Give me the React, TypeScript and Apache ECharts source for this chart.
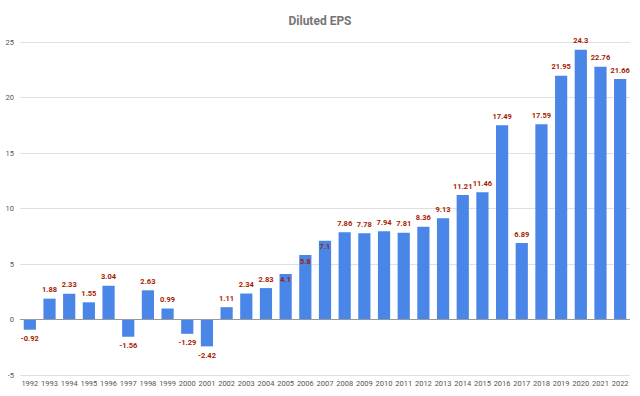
import React, { useEffect, useRef } from "react";
import * as echarts from "echarts";

const years = ["1992","1993","1994","1995","1996","1997","1998","1999","2000","2001","2002","2003","2004","2005","2006","2007","2008","2009","2010","2011","2012","2013","2014","2015","2016","2017","2018","2019","2020","2021","2022"];
const eps = [-0.92,1.88,2.33,1.55,3.04,-1.56,2.63,0.99,-1.29,-2.42,1.11,2.34,2.83,4.1,5.8,7.1,7.86,7.78,7.94,7.81,8.36,9.13,11.21,11.46,17.49,6.89,17.59,21.95,24.3,22.76,21.66];
const insideLabelYears = ["2005","2006","2007"];

export default function App() {
  const ref = useRef<HTMLDivElement>(null);
  useEffect(() => {
    if (!ref.current) return;
    const chart = echarts.init(ref.current, null, { renderer: "svg" });
    const font = "Roboto, Arial, sans-serif";
    chart.setOption({
      animation: false,
      backgroundColor: "#ffffff",
      title: {
        text: "Diluted EPS",
        left: "center",
        top: 10,
        textStyle: { fontSize: 12, fontWeight: "bold", color: "#757575", fontFamily: font },
      },
      grid: { left: 20, right: 10, top: 42, bottom: 21, containLabel: false },
      xAxis: {
        type: "category",
        data: years,
        axisLine: { show: false, onZero: false },
        axisTick: { show: false },
        axisLabel: { fontSize: 7.5, color: "#555", fontFamily: font, margin: 4, interval: 0 },
      },
      yAxis: {
        type: "value",
        min: -5,
        max: 25,
        interval: 5,
        axisLine: { show: false },
        axisTick: { show: false },
        axisLabel: { fontSize: 7.5, color: "#555", fontFamily: font, margin: 6 },
        splitLine: { lineStyle: { color: "#e0e0e0", width: 1 } },
      },
      series: [
        {
          type: "bar",
          barWidth: "62%",
          itemStyle: { color: "#4a86e8" },
          data: eps.map((v, i) => ({
            value: v,
            label: {
              show: true,
              position: insideLabelYears.includes(years[i]) ? "insideTop" : v < 0 ? "bottom" : "top",
              distance: insideLabelYears.includes(years[i]) ? 2 : 5,
              formatter: String(v),
              fontSize: 7.5,
              fontWeight: "bold",
              color: "#a61c00",
              fontFamily: font,
            },
          })),
          markLine: {
            silent: true,
            symbol: "none",
            label: { show: false },
            lineStyle: { color: "#999999", width: 1, type: "solid" },
            data: [{ yAxis: 0 }],
          },
        },
      ],
    });
    return () => chart.dispose();
  }, []);
  return <div ref={ref} style={{ width: 640, height: 396, position: "absolute", left: 0, top: 0 }} />;
}
